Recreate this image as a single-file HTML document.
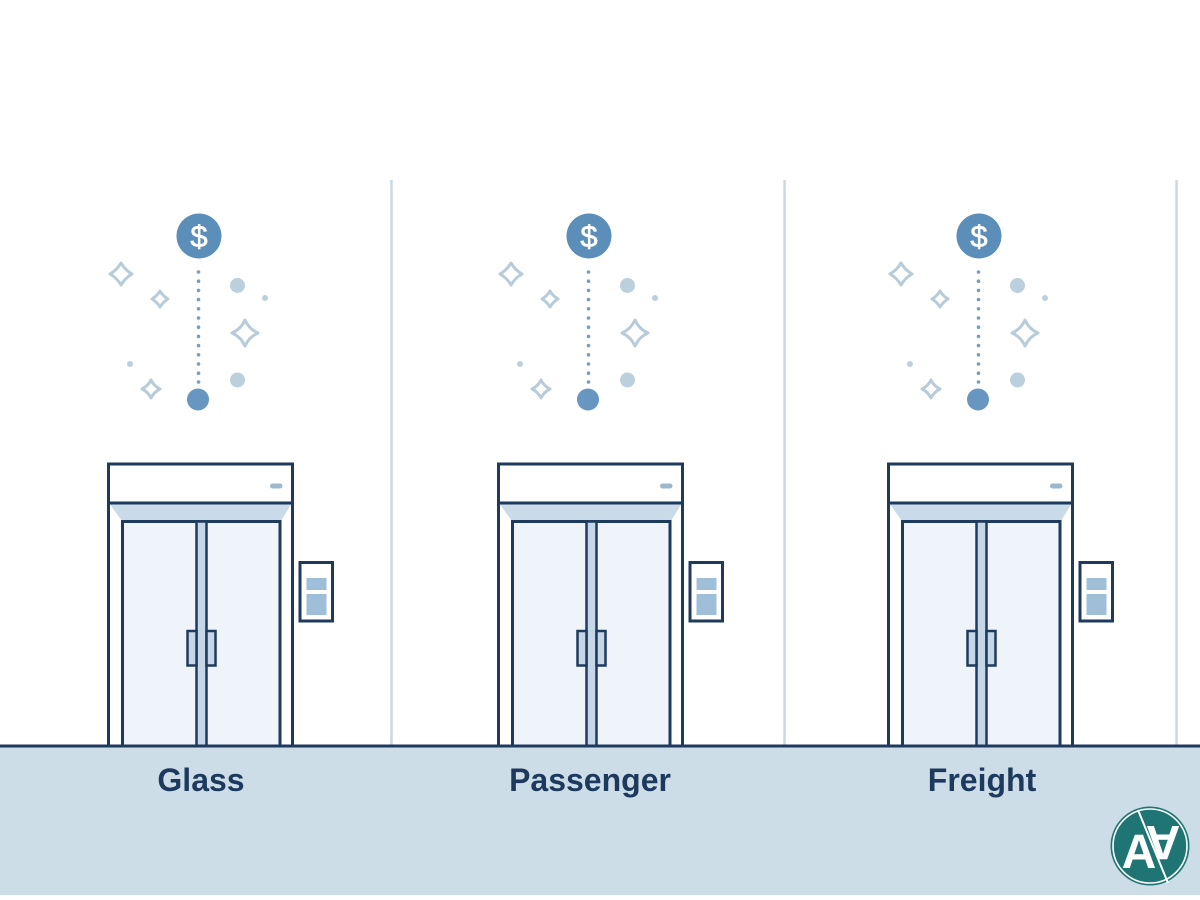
<!DOCTYPE html>
<html>
<head>
<meta charset="utf-8">
<style>
  html,body{margin:0;padding:0;background:#ffffff;}
  body{width:1200px;height:900px;overflow:hidden;}
  svg{display:block;}
  .lbl{font-family:"Liberation Sans",sans-serif;font-weight:bold;font-size:32px;fill:#1d3a5e;}
</style>
</head>
<body>
<svg width="1200" height="900" viewBox="0 0 1200 900" xmlns="http://www.w3.org/2000/svg">
  <defs>
    <g id="icons">
      <!-- sparkles -->
      <g fill="none" stroke="#b8cbd9" stroke-width="3" stroke-linejoin="round">
        <path d="M121,263 Q125,270 132,274 Q125,278 121,285 Q117,278 110,274 Q117,270 121,263 Z"/>
        <path d="M160,291 Q163,296 168,299 Q163,302 160,307 Q157,302 152,299 Q157,296 160,291 Z"/>
        <path d="M245,320 Q249,329 258,333 Q249,337 245,346 Q241,337 232,333 Q241,329 245,320 Z"/>
        <path d="M151,380 Q154,386 160,389 Q154,392 151,398 Q148,392 142,389 Q148,386 151,380 Z"/>
      </g>
      <g fill="#bccfdd">
        <circle cx="237.5" cy="285.5" r="7.5"/>
        <circle cx="265" cy="298" r="3"/>
        <circle cx="130" cy="364" r="3"/>
        <circle cx="237.5" cy="380" r="7.5"/>
      </g>
      <!-- dotted line -->
      <g fill="#7d9db5">
        <circle cx="198.5" cy="272" r="1.8"/>
        <circle cx="198.5" cy="281.2" r="1.8"/>
        <circle cx="198.5" cy="290.4" r="1.8"/>
        <circle cx="198.5" cy="299.6" r="1.8"/>
        <circle cx="198.5" cy="308.8" r="1.8"/>
        <circle cx="198.5" cy="318" r="1.8"/>
        <circle cx="198.5" cy="327.2" r="1.8"/>
        <circle cx="198.5" cy="336.4" r="1.8"/>
        <circle cx="198.5" cy="345.6" r="1.8"/>
        <circle cx="198.5" cy="354.8" r="1.8"/>
        <circle cx="198.5" cy="364" r="1.8"/>
        <circle cx="198.5" cy="373.2" r="1.8"/>
        <circle cx="198.5" cy="382" r="1.8"/>
      </g>
      <circle cx="199" cy="236" r="22.5" fill="#5b8fba"/>
      <text x="199" y="247" text-anchor="middle" font-family="Liberation Sans, sans-serif" font-size="31" fill="#ffffff" stroke="#ffffff" stroke-width="0.6">$</text>
      <circle cx="198" cy="399.5" r="11" fill="#6797c0"/>
    </g>
    <g id="elev">
      <rect x="108.5" y="464" width="184" height="282" fill="#ffffff" stroke="#1e3a5c" stroke-width="3"/>
      <line x1="108.5" y1="503" x2="292.5" y2="503" stroke="#1e3a5c" stroke-width="3"/>
      <polygon points="110,504.5 291,504.5 281,521 122,521" fill="#c9dae8"/>
      <rect x="122.5" y="521.5" width="157.5" height="224.5" fill="#eef4fa" stroke="#1e3a5c" stroke-width="3"/>
      <rect x="196.5" y="521.5" width="10" height="224.5" fill="#c5d6e6" stroke="#1e3a5c" stroke-width="2.5"/>
      <rect x="187.5" y="631" width="9" height="34.5" fill="#c5d6e6" stroke="#1e3a5c" stroke-width="2.5"/>
      <rect x="206.5" y="631" width="9" height="34.5" fill="#c5d6e6" stroke="#1e3a5c" stroke-width="2.5"/>
      <rect x="270" y="483.5" width="12.5" height="5" rx="2.5" fill="#9db8cc"/>
      <rect x="300" y="562.5" width="32.5" height="58.5" fill="#ffffff" stroke="#1e3a5c" stroke-width="3"/>
      <rect x="306.5" y="578" width="20" height="12" fill="#9fbfd8"/>
      <rect x="306.5" y="594" width="20" height="21" fill="#9fbfd8"/>
    </g>
  </defs>

  <!-- dividers -->
  <g stroke="#c9d8e2" stroke-width="2.5">
    <line x1="391.5" y1="180" x2="391.5" y2="746"/>
    <line x1="784.5" y1="180" x2="784.5" y2="746"/>
    <line x1="1176.5" y1="180" x2="1176.5" y2="746"/>
  </g>

  <!-- floor band -->
  <rect x="0" y="746" width="1200" height="149" fill="#cddde8"/>

  <!-- icons -->
  <use href="#icons"/>
  <use href="#icons" transform="translate(390,0)"/>
  <use href="#icons" transform="translate(780,0)"/>

  <!-- elevators -->
  <use href="#elev"/>
  <use href="#elev" transform="translate(390,0)"/>
  <use href="#elev" transform="translate(780,0)"/>

  <!-- floor line -->
  <line x1="0" y1="746" x2="1200" y2="746" stroke="#1e3a5c" stroke-width="3"/>

  <!-- labels -->
  <text class="lbl" x="201" y="791" text-anchor="middle">Glass</text>
  <text class="lbl" x="590" y="791" text-anchor="middle">Passenger</text>
  <text class="lbl" x="982" y="791" text-anchor="middle">Freight</text>

  <!-- logo -->
  <g>
    <circle cx="1150" cy="846" r="39.5" fill="#1e7574"/>
    <circle cx="1150" cy="846" r="37" fill="none" stroke="#ffffff" stroke-width="1.6"/>
    <line x1="1138" y1="810" x2="1168" y2="883" stroke="#ffffff" stroke-width="2"/>
    <text x="1139" y="868" text-anchor="middle" font-family="Liberation Sans, sans-serif" font-weight="bold" font-size="48" fill="#ffffff">A</text>
    <text x="0" y="0" text-anchor="middle" font-family="Liberation Sans, sans-serif" font-weight="bold" font-size="48" fill="#ffffff" transform="translate(1163,826) rotate(180)">A</text>
  </g>
</svg>
</body>
</html>
